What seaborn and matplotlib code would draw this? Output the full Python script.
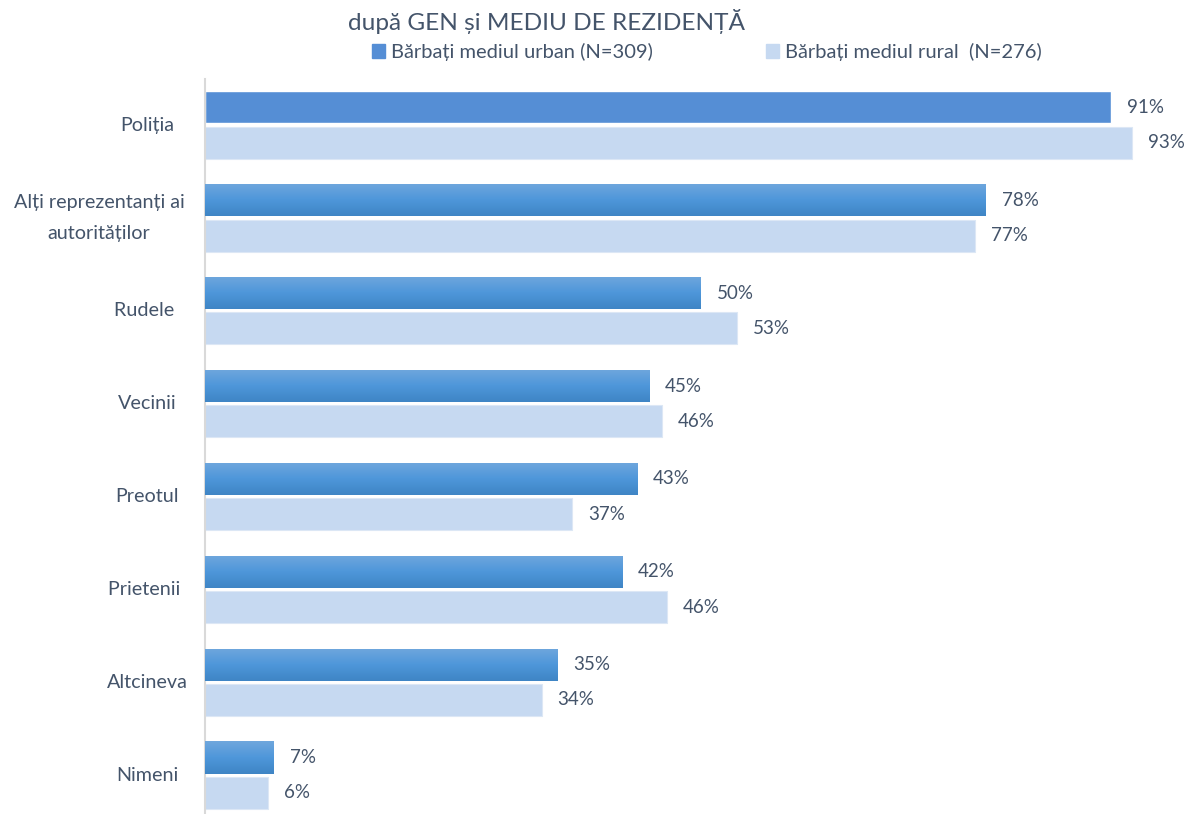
import numpy as np
import pandas as pd
import matplotlib
matplotlib.use("Agg")
import matplotlib.pyplot as plt
import seaborn as sns
from matplotlib.colors import LinearSegmentedColormap
from matplotlib.transforms import blended_transform_factory

categories = ["Poliția", "Alți reprezentanți ai\nautorităților", "Rudele ", "Vecinii",
              "Preotul", "Prietenii ", "Altcineva", "Nimeni"]
urban = [91.0, 78.4, 49.8, 44.6, 43.4, 41.9, 35.4, 6.9]
rural = [93.1, 77.3, 53.4, 45.9, 36.9, 46.4, 33.8, 6.3]
series = ["Bărbați mediul urban (N=309)", "Bărbați mediul rural  (N=276)"]
title = "după GEN și MEDIU DE REZIDENȚĂ"

URBAN_C = "#558ED5"
RURAL_C = "#C6D9F1"
TEXT_C = "#44546A"

sns.set_theme(style="white")
plt.rcParams["font.family"] = ["Lato", "DejaVu Sans"]

df = pd.DataFrame({
    "cat": categories * 2,
    "val": urban + rural,
    "series": [series[0]] * len(categories) + [series[1]] * len(categories),
})

W, H = 1189, 814
fig = plt.figure(figsize=(W / 100, H / 100), dpi=100)
ax = fig.add_axes([205 / W, 0, 1 - 205 / W, 1 - 78.6 / H])

sns.barplot(data=df, y="cat", x="val", hue="series", orient="h",
            palette=[URBAN_C, RURAL_C], width=0.76, gap=0.09,
            ax=ax, legend=False, saturation=1)

# gradient fill for urban bars (first one stays flat)
cmap = LinearSegmentedColormap.from_list("g", ["#6FA7DD", "#4E97DA", "#3F85C5"])
grad = np.linspace(0, 1, 64).reshape(-1, 1)
for i, p in enumerate(ax.containers[0].patches):
    if i == 0:
        continue
    x0, y0 = p.get_x(), p.get_y()
    w, h = p.get_width(), p.get_height()
    im = ax.imshow(grad, cmap=cmap, aspect="auto",
                   extent=[x0, x0 + w, y0 + h, y0], origin="upper", zorder=3)
    im.set_clip_path(p)

for p in ax.containers[1].patches:
    p.set_edgecolor("#DCE7F5")
    p.set_linewidth(0.8)

for c in ax.containers:
    ax.bar_label(c, fmt="%.0f%%", padding=11.5, color=TEXT_C, fontsize=13.5)

ax.set_xlim(0, 984 / 9.956)
ax.set_ylim(7.5 - 7.6 / 92.86, -0.5)
ax.set_xlabel("")
ax.set_ylabel("")
ax.set_xticks([])
ax.set_yticks(range(len(categories)))
ax.set_yticklabels([])
ax.tick_params(axis="y", length=0)
for s in ["top", "right", "bottom"]:
    ax.spines[s].set_visible(False)
ax.spines["left"].set_color("#D9D9D9")
ax.spines["left"].set_linewidth(1.5)

trans = blended_transform_factory(fig.transFigure, ax.transData)
for i, lab in enumerate(categories):
    if "\n" in lab:
        ax.text(99 / W, i, lab, transform=trans, ha="center", va="center",
                multialignment="center", color=TEXT_C, fontsize=14.2, linespacing=2.05)
    else:
        ax.text(147 / W, i, lab, transform=trans, ha="center", va="center",
                color=TEXT_C, fontsize=14.2)

fig.text(546 / W, 1 - 22 / H, title, ha="center", va="center",
         color=TEXT_C, fontsize=17.6)

handles = [plt.Rectangle((0, 0), 1, 1, color=URBAN_C),
           plt.Rectangle((0, 0), 1, 1, color=RURAL_C)]
fig.legend(handles, series, loc="center left", bbox_to_anchor=(354 / W, 1 - 52 / H),
           ncol=2, frameon=False, handlelength=0.65, handleheight=0.65,
           handletextpad=0.3, columnspacing=5.6, labelcolor=TEXT_C, fontsize=14.5)

fig.savefig("out.png", dpi=100)
